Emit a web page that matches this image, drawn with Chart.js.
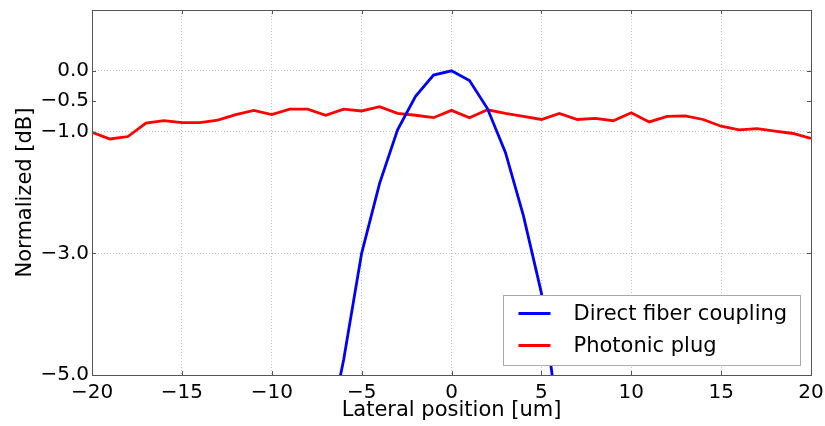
<!DOCTYPE html>
<html>
<head>
<meta charset="utf-8">
<script src="https://cdn.jsdelivr.net/npm/chart.js@4.4.1/dist/chart.umd.min.js"></script>
<style>
  html, body { margin: 0; padding: 0; background: #fff; }
  #wrap { width: 825px; height: 426px; }
</style>
</head>
<body>
<div id="wrap"><canvas id="coupling" width="825" height="426"></canvas></div>
<script>
// lateral offsets in um
const plugPositions = [-20, -19, -18, -17, -16, -15, -14, -13, -12, -11, -10, -9, -8, -7, -6, -5, -4, -3, -2, -1,
    0, 1, 2, 3, 4, 5, 6, 7, 8, 9, 10, 11, 12, 13, 14, 15, 16, 17, 18, 19, 20];
const plugValues = [-1.01, -1.12, -1.08, -0.86, -0.82, -0.85, -0.85, -0.81, -0.72, -0.65, -0.72, -0.63, -0.63, -0.73,
    -0.63, -0.66, -0.59, -0.70, -0.73, -0.77, -0.65, -0.77, -0.64, -0.70, -0.75, -0.80, -0.70, -0.80, -0.78, -0.82,
    -0.69, -0.84, -0.75, -0.74, -0.80, -0.91, -0.97, -0.95, -0.99, -1.03, -1.11];

const fiberPositions = [-7, -6, -5, -4, -3, -2, -1, 0, 1, 2, 3, 4, 5, 6];
const fiberValues = [-6.2, -4.75, -3.0, -1.85, -0.97, -0.42, -0.07, 0.0, -0.16, -0.62, -1.34, -2.38, -3.65, -5.9];

const xTicks = [-20, -15, -10, -5, 0, 5, 10, 15, 20];
const yTicks = [-5.0, -3.0, -1.0, -0.5, 0.0];

const FONT = "'DejaVu Sans', sans-serif";
const minus = s => String(s).replace('-', '\u2212');

function toPoints(xs, ys) {
    return xs.map((x, i) => ({ x: x, y: ys[i] }));
}

// frame, inward ticks and the legend box inside the axes
const axesDecor = {
    id: 'axesDecor',
    afterDatasetsDraw(chart) {
        const { ctx, chartArea: a, scales } = chart;
        ctx.save();
        ctx.strokeStyle = '#555';
        ctx.lineWidth = 1;
        ctx.beginPath();
        scales.x.ticks.forEach(t => {
            const px = Math.round(scales.x.getPixelForValue(t.value)) + 0.5;
            ctx.moveTo(px, a.bottom); ctx.lineTo(px, a.bottom - 4);
            ctx.moveTo(px, a.top); ctx.lineTo(px, a.top + 4);
        });
        scales.y.ticks.forEach(t => {
            const py = Math.round(scales.y.getPixelForValue(t.value)) + 0.5;
            ctx.moveTo(a.left, py); ctx.lineTo(a.left + 4, py);
            ctx.moveTo(a.right, py); ctx.lineTo(a.right - 4, py);
        });
        ctx.stroke();
        ctx.strokeRect(Math.round(a.left) + 0.5, Math.round(a.top) + 0.5,
            Math.round(a.right - a.left), Math.round(a.bottom - a.top));

        // legend
        const bw = 297, bh = 70;
        const bx = Math.round(a.right - 11 - bw) + 0.5;
        const by = Math.round(a.bottom - 10 - bh) + 0.5;
        ctx.fillStyle = '#fff';
        ctx.fillRect(bx, by, bw, bh);
        ctx.strokeStyle = '#aaa';
        ctx.strokeRect(bx, by, bw, bh);
        ctx.font = '21px ' + FONT;
        ctx.textBaseline = 'middle';
        chart.data.datasets.forEach((ds, i) => {
            const ly = by + 18 + i * 32;
            ctx.strokeStyle = ds.borderColor;
            ctx.lineWidth = 2.8;
            ctx.beginPath();
            ctx.moveTo(bx + 15, ly); ctx.lineTo(bx + 47, ly);
            ctx.stroke();
            ctx.fillStyle = '#000';
            ctx.fillText(ds.label, bx + 70, ly + 1);
        });
        ctx.restore();
    }
};

new Chart(document.getElementById('coupling'), {
    type: 'line',
    data: {
        datasets: [
            {
                label: 'Direct fiber coupling',
                data: toPoints(fiberPositions, fiberValues),
                borderColor: '#0000ff',
                borderWidth: 2.8,
                pointRadius: 0,
                tension: 0,
            },
            {
                label: 'Photonic plug',
                data: toPoints(plugPositions, plugValues),
                borderColor: '#ff0000',
                borderWidth: 2.8,
                pointRadius: 0,
                tension: 0,
            }
        ]
    },
    options: {
        responsive: false,
        animation: false,
        layout: { padding: { top: 10, right: 14, left: 0, bottom: 0 } },
        plugins: { legend: { display: false }, tooltip: { enabled: false } },
        scales: {
            x: {
                type: 'linear',
                min: -20,
                max: 20,
                afterBuildTicks: s => { s.ticks = xTicks.map(v => ({ value: v })); },
                afterFit: s => { s.height = 51; s.paddingRight = 0; },
                border: { display: false, dash: [1, 2] },
                grid: { color: '#c4c4c4', drawTicks: false },
                ticks: {
                    padding: 6,
                    color: '#000',
                    font: { family: FONT, size: 20 },
                    maxRotation: 0,
                    autoSkip: false,
                    callback: v => minus(v)
                },
                title: {
                    display: true,
                    text: 'Lateral position [um]',
                    color: '#000',
                    font: { family: FONT, size: 21 },
                    padding: { top: 0, bottom: 3 }
                }
            },
            y: {
                type: 'linear',
                min: -5,
                max: 1,
                afterBuildTicks: s => { s.ticks = yTicks.map(v => ({ value: v })); },
                afterFit: s => { s.width = 92; s.paddingTop = 0; s.paddingBottom = 0; },
                border: { display: false, dash: [1, 2] },
                grid: {
                    color: ctx => (ctx.tick && ctx.tick.value === -0.5) ? 'rgba(0,0,0,0)' : '#c4c4c4',
                    drawTicks: false
                },
                ticks: {
                    padding: 3,
                    color: '#000',
                    font: { family: FONT, size: 20 },
                    autoSkip: false,
                    callback: v => minus(Number(v).toFixed(1))
                },
                title: {
                    display: true,
                    text: 'Normalized [dB]',
                    color: '#000',
                    font: { family: FONT, size: 21 },
                    padding: { top: 13, bottom: 0 }
                }
            }
        }
    },
    plugins: [axesDecor]
});
</script>
</body>
</html>
